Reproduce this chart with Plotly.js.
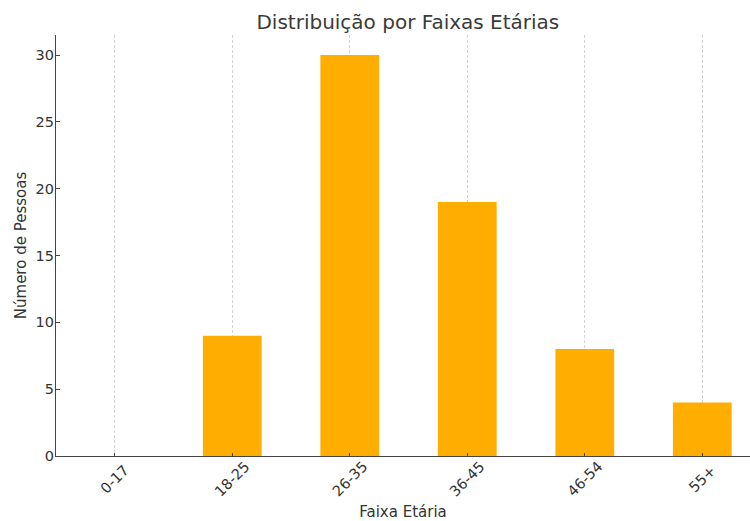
<!DOCTYPE html>
<html><head><meta charset="utf-8">
<script src="https://cdn.plot.ly/plotly-3.0.1.min.js"></script>
<style>html,body{margin:0;padding:0;background:#fff}#c{width:750px;height:521px}</style>
</head><body><div id="c"></div>
<script>
const categories = ['0-17', '18-25', '26-35', '36-45', '46-54', '55+'];
const counts = [0, 9, 30, 19, 8, 4];
const yTicks = [0, 5, 10, 15, 20, 25, 30];

const font = 'DejaVu Sans, sans-serif';
const tickAnnotations = categories.map(c => ({
  x: c, xref: 'x', y: 0, yref: 'paper', yshift: -23,
  text: c, textangle: -45, showarrow: false,
  xanchor: 'center', yanchor: 'middle',
  font: {family: font, size: 14.5, color: '#333'}
}));

Plotly.newPlot('c', [{
  type: 'bar',
  x: categories,
  y: counts,
  width: 0.5,
  marker: {color: '#FFAE00', line: {width: 0}},
  hoverinfo: 'x+y'
}], {
  width: 750, height: 521,
  margin: {l: 56, r: 0, t: 35, b: 65},
  paper_bgcolor: '#fff', plot_bgcolor: '#fff',
  font: {family: font, color: '#333', size: 14},
  title: {text: 'Distribuição por Faixas Etárias', font: {family: font, size: 20, color: '#3a3a3a'},
          x: 0.507, xref: 'paper', xanchor: 'center', y: 0.958, yref: 'container', yanchor: 'middle'},
  xaxis: {
    type: 'category', range: [-0.5, 5.406],
    showgrid: true, gridcolor: '#d3d3d3', griddash: '3px,2px', gridwidth: 1,
    showline: true, linecolor: '#444', linewidth: 1.2,
    ticks: 'inside', ticklen: 3.5, tickcolor: '#444', tickwidth: 1,
    showticklabels: false,
    title: {text: 'Faixa Etária', font: {size: 15, color: '#333'}, standoff: 51},
    layer: 'above traces', zeroline: false, fixedrange: true
  },
  yaxis: {
    range: [0, 31.5], tickvals: yTicks, ticktext: yTicks.map(String),
    showgrid: false, showline: true, linecolor: '#444', linewidth: 1.2,
    ticks: 'inside', ticklen: 3.5, tickcolor: '#444', tickwidth: 1,
    tickfont: {size: 14.5, color: '#333'}, ticklabelstandoff: -2,
    title: {text: 'Número de Pessoas', font: {size: 15, color: '#333'}, standoff: 5},
    layer: 'above traces', zeroline: false, fixedrange: true
  },
  annotations: tickAnnotations,
  showlegend: false
}, {displayModeBar: false, staticPlot: true});
</script></body></html>
